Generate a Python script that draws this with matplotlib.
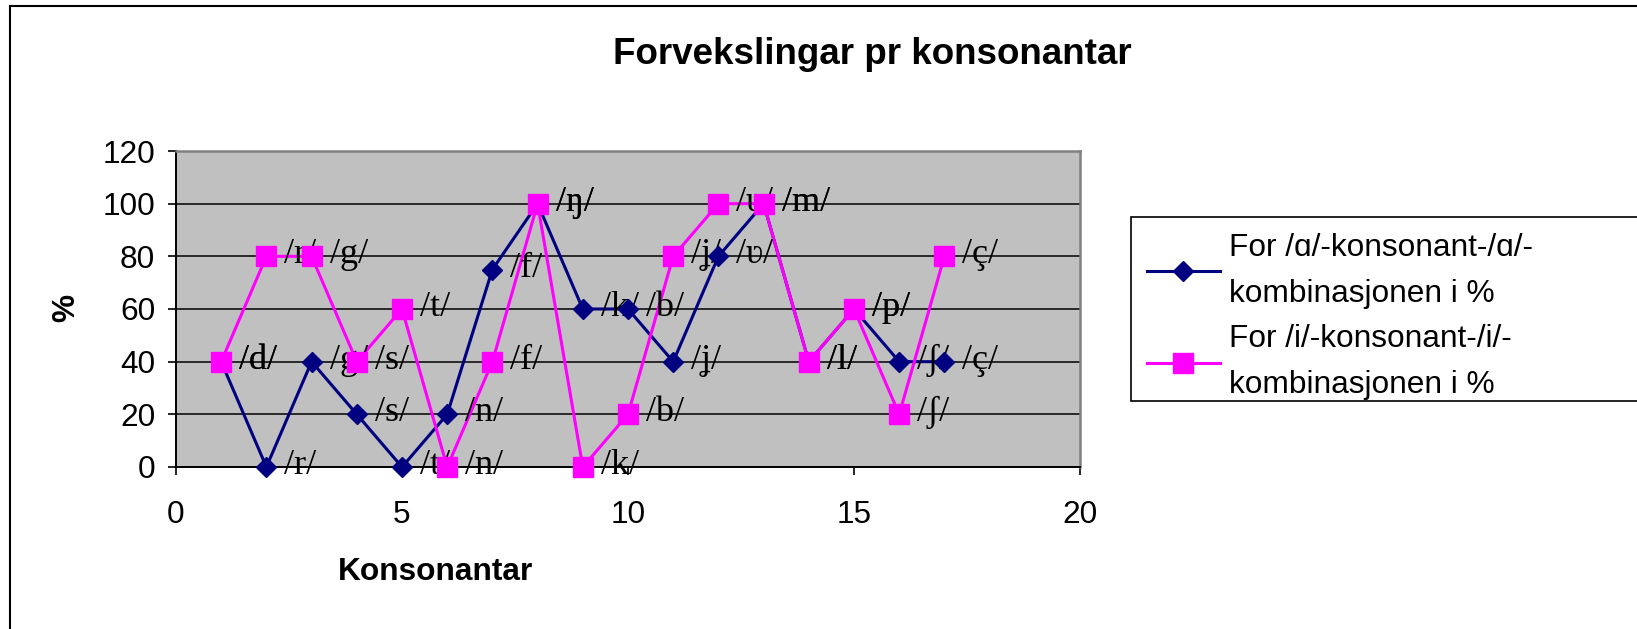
import matplotlib
matplotlib.use('Agg')
import matplotlib.pyplot as plt
from matplotlib.lines import Line2D
from matplotlib.patches import Rectangle

W, H = 1637, 629

# data
nr = list(range(1, 18))
konsonantar = ['d', 'r', 'g', 's', 't', 'n', 'f', 'ŋ', 'k', 'b',
               'ʝ', 'ʋ', 'm', 'l', 'p', 'ʃ', 'ç']
a_prosent = [40, 0, 40, 20, 0, 20, 75, 100, 60, 60, 40, 80, 100, 40, 60, 40, 40]
i_prosent = [40, 80, 80, 40, 60, 0, 40, 100, 0, 20, 80, 100, 100, 40, 60, 20, 80]
x_ticks = [0, 5, 10, 15, 20]
y_ticks = [0, 20, 40, 60, 80, 100, 120]

SANS = ['Liberation Sans', 'DejaVu Sans']
SERIF = ['Liberation Serif', 'DejaVu Serif']
plt.rcParams['font.family'] = SANS
FS = 22.8

fig = plt.figure(figsize=(W/100, H/100), dpi=100)
ax = fig.add_axes([176/W, 1-467/H, (1080-176)/W, (467-151)/H])
ax.set_facecolor('#C0C0C0')
ax.set_xlim(0, 20)
ax.set_ylim(0, 120)
ax.set_xticks(x_ticks)
ax.set_yticks(y_ticks)
ax.yaxis.grid(True, color='black', lw=1.1)
ax.set_axisbelow(True)
ax.tick_params(axis='both', direction='out', length=6, width=1.2, labelsize=FS)
ax.tick_params(axis='x', pad=18)
ax.tick_params(axis='y', pad=9)
for s in ['left', 'bottom']:
    ax.spines[s].set_color('black')
    ax.spines[s].set_linewidth(1.4)
for s in ['top', 'right']:
    ax.spines[s].set_color('#808080')
    ax.spines[s].set_linewidth(1.8)

series = [
    (a_prosent, '#000080', 'D', 10, 'For /ɑ/-konsonant-/ɑ/-\nkombinasjonen i %'),
    (i_prosent, '#FF00FF', 's', 14.5, 'For /i/-konsonant-/i/-\nkombinasjonen i %'),
]
handles = []
for k, (vals, col, mk, ms, lab) in enumerate(series):
    ax.plot(nr, vals, color=col, lw=2.2, zorder=2 + k*0.1, clip_on=False)
    ax.plot(nr, vals, ls='none', marker=mk, ms=ms, color=col, mec=col,
            zorder=4 + k*0.1, clip_on=False)
    for x, y, c in zip(nr, vals, konsonantar):
        ax.annotate('/' + c + '/', (x, y), xytext=(13, 1), textcoords='offset points',
                    ha='left', va='center', fontsize=26, family=SERIF,
                    zorder=3, annotation_clip=False)
    handles.append(Line2D([], [], color=col, lw=2.2, marker=mk, ms=ms, mec=col, label=lab))

fig.text(872/W, 1-54/H, 'Forvekslingar pr konsonantar', ha='center', va='center',
         fontsize=26.5, fontweight='bold')
fig.text(435/W, 1-572/H, 'Konsonantar', ha='center', va='center',
         fontsize=FS, fontweight='bold')
fig.text(66/W, 1-308/H, '%', ha='center', va='center', rotation=90,
         fontsize=FS, fontweight='bold')

# legend frame runs past the right edge of the picture
fig.add_artist(Rectangle((1131/W, 1-401/H), 520/W, 184/H, transform=fig.transFigure,
                         facecolor='white', edgecolor='black', lw=1.2, zorder=1))
leg = fig.legend(handles=handles, loc='upper left', bbox_to_anchor=(1128/W, 1-214/H),
                 frameon=False, fontsize=FS, handlelength=2.3, handletextpad=0.3,
                 labelspacing=0.5, borderpad=0.1)
for t in leg.get_texts():
    t.set_linespacing(1.68)
leg.set_zorder(2)

# outer chart frame
fig.add_artist(Line2D([10/W, 10/W], [0, 1-6/H], color='black', lw=1.5,
                      transform=fig.transFigure))
fig.add_artist(Line2D([10/W, 1], [1-6/H, 1-6/H], color='black', lw=1.5,
                      transform=fig.transFigure))

fig.savefig('out.png', dpi=100)
